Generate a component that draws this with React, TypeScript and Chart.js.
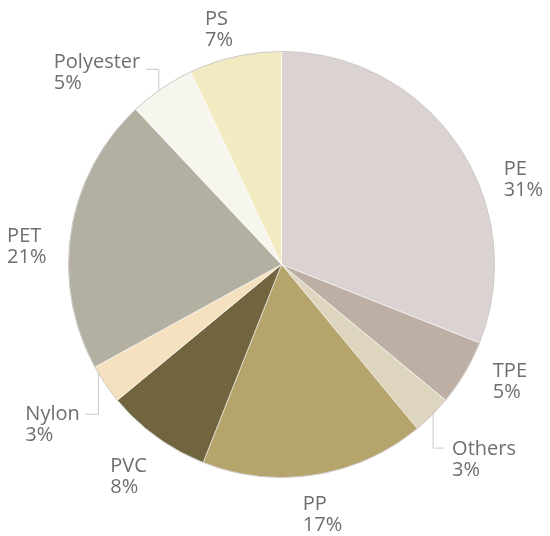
import React, { useEffect, useRef } from "react";
import { Chart, registerables } from "chart.js";

Chart.register(...registerables);

const categories = ["PE", "TPE", "Others", "PP", "PVC", "Nylon", "PET", "Polyester", "PS"];
const shares = [31, 5, 3, 17, 8, 3, 21, 5, 7];
const sliceColors = [
  "#dad3d2",
  "#bdafa3",
  "#ddd5bd",
  "#b5a46c",
  "#716540",
  "#f5e1c0",
  "#b3b0a2",
  "#f6f5ee",
  "#f2eac0",
];

// label placement relative to each slice's outer mid point (styling only)
const labelNudges: { dx: number; dy: number; leader?: { dx: number; dy: number } }[] = [
  { dx: 46, dy: 30 },
  { dx: 28, dy: 4 },
  { dx: 20, dy: 40, leader: { dx: 1, dy: -7 } },
  { dx: -12, dy: 35 },
  { dx: -46, dy: 35 },
  { dx: -80, dy: 36, leader: { dx: -7, dy: -6 } },
  { dx: -64, dy: 11 },
  { dx: -108, dy: -20, leader: { dx: -3, dy: 1 } },
  { dx: -30, dy: -32 },
];

const FONT = '20px "Open Sans", sans-serif';
const TEXT_COLOR = "#6d6e71";
const LINE_GAP = 21;

const labelPlugin = {
  id: "outerLabels",
  afterDraw(chart: any) {
    const ctx = chart.ctx;
    const meta = chart.getDatasetMeta(0);
    ctx.save();
    // outer rim
    const first = meta.data[0];
    if (first) {
      ctx.beginPath();
      ctx.arc(first.x, first.y, first.outerRadius, 0, Math.PI * 2);
      ctx.strokeStyle = "#cbc6c2";
      ctx.lineWidth = 1;
      ctx.stroke();
    }
    ctx.font = FONT;
    ctx.fillStyle = TEXT_COLOR;
    ctx.textBaseline = "alphabetic";
    ctx.textAlign = "left";
    meta.data.forEach((arc: any, i: number) => {
      const { x, y, startAngle, endAngle, outerRadius } = arc.getProps(
        ["x", "y", "startAngle", "endAngle", "outerRadius"],
        true
      );
      const mid = (startAngle + endAngle) / 2;
      const ex = x + Math.cos(mid) * outerRadius;
      const ey = y + Math.sin(mid) * outerRadius;
      const nudge = labelNudges[i];
      const lx = ex + nudge.dx;
      const ly = ey + nudge.dy;
      const name = categories[i];
      const total = shares.reduce((a, b) => a + b, 0);
      const pct = Math.round((shares[i] / total) * 100) + "%";
      ctx.fillStyle = TEXT_COLOR;
      ctx.fillText(name, lx, ly);
      ctx.fillText(pct, lx, ly + LINE_GAP);
      if (nudge.leader) {
        const vx = ex + nudge.leader.dx;
        const side = ey > y ? 1 : -1;
        const vy0 = y + side * Math.sqrt(Math.max(outerRadius * outerRadius - (vx - x) * (vx - x), 0));
        const hy = ly + nudge.leader.dy;
        const w = ctx.measureText(name).width;
        const hx = lx > vx ? lx - 8 : lx + w + 6;
        ctx.beginPath();
        ctx.moveTo(vx, vy0);
        ctx.lineTo(vx, hy);
        ctx.lineTo(hx, hy);
        ctx.strokeStyle = "#c9c9c9";
        ctx.lineWidth = 1;
        ctx.stroke();
      }
    });
    ctx.restore();
  },
};

export default function App() {
  const canvasRef = useRef<HTMLCanvasElement | null>(null);
  useEffect(() => {
    if (!canvasRef.current) return;
    const chart = new Chart(canvasRef.current, {
      type: "pie",
      data: {
        labels: categories,
        datasets: [
          {
            data: shares,
            backgroundColor: sliceColors,
            borderColor: "rgba(255,255,255,0.55)",
            borderWidth: 1,
            hoverOffset: 0,
          },
        ],
      },
      options: {
        responsive: false,
        animation: false,
        layout: { padding: { left: 68, top: 51, right: 55, bottom: 58 } },
        plugins: {
          legend: { display: false },
          tooltip: { enabled: false },
        },
      },
      plugins: [labelPlugin],
    });
    return () => chart.destroy();
  }, []);
  return (
    <div style={{ position: "fixed", left: 0, top: 0, width: 550, height: 536, background: "#fff" }}>
      <canvas ref={canvasRef} width={550} height={536} />
    </div>
  );
}
